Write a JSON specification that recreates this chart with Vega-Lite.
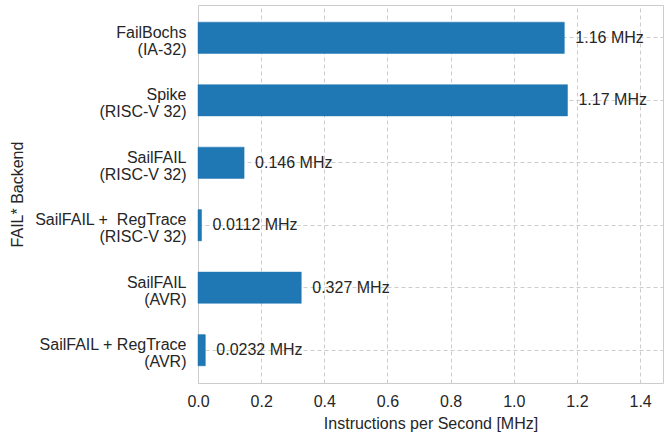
{
  "$schema": "https://vega.github.io/schema/vega-lite/v6.json",
  "autosize": "none",
  "width": 465,
  "height": 378,
  "padding": {"left": 198, "top": 5, "right": 1, "bottom": 53},
  "background": "white",
  "config": {
    "font": "Liberation Sans",
    "view": {"stroke": "#cccccc", "strokeWidth": 1},
    "axis": {
      "domain": false,
      "ticks": false,
      "grid": true,
      "gridColor": "#cccccc",
      "gridDash": [4, 3],
      "gridWidth": 1,
      "labelFont": "Liberation Sans",
      "labelFontSize": 16,
      "labelColor": "#262626",
      "titleFont": "Liberation Sans",
      "titleFontSize": 16,
      "titleFontWeight": "normal",
      "titleColor": "#262626"
    }
  },
  "data": {
    "values": [
      {"backend": "FailBochs\n(IA-32)", "mhz": 1.16, "label": "1.16 MHz"},
      {"backend": "Spike\n(RISC-V 32)", "mhz": 1.17, "label": "1.17 MHz"},
      {"backend": "SailFAIL\n(RISC-V 32)", "mhz": 0.146, "label": "0.146 MHz"},
      {"backend": "SailFAIL +\u00a0 RegTrace\n(RISC-V 32)", "mhz": 0.0112, "label": "0.0112 MHz"},
      {"backend": "SailFAIL\n(AVR)", "mhz": 0.327, "label": "0.327 MHz"},
      {"backend": "SailFAIL + RegTrace\n(AVR)", "mhz": 0.0232, "label": "0.0232 MHz"}
    ]
  },
  "encoding": {
    "y": {
      "field": "backend",
      "type": "nominal",
      "sort": null,
      "title": "FAIL* Backend",
      "scale": {"paddingInner": 0.5, "paddingOuter": 0.275},
      "axis": {
        "grid": true,
        "labelExpr": "split(datum.label, '\\n')",
        "labelLineHeight": 17,
        "labelOffset": -5,
        "labelPadding": 12,
        "labelLimit": 300,
        "titlePadding": 9
      }
    },
    "x": {
      "field": "mhz",
      "type": "quantitative",
      "title": "Instructions per Second [MHz]",
      "scale": {"domain": [0, 1.4725], "nice": false, "zero": true},
      "axis": {
        "values": [0, 0.2, 0.4, 0.6, 0.8, 1.0, 1.2, 1.4],
        "format": ".1f",
        "labelFlush": false,
        "labelPadding": 10,
        "titlePadding": 6
      }
    }
  },
  "layer": [
    {"mark": {"type": "bar", "color": "#1f77b4", "stroke": "#1f77b4", "strokeWidth": 0.5}},
    {
      "mark": {"type": "text", "align": "left", "baseline": "middle", "dx": 11, "fontSize": 16, "color": "#262626", "font": "Liberation Sans"},
      "encoding": {"text": {"field": "label"}}
    }
  ]
}
